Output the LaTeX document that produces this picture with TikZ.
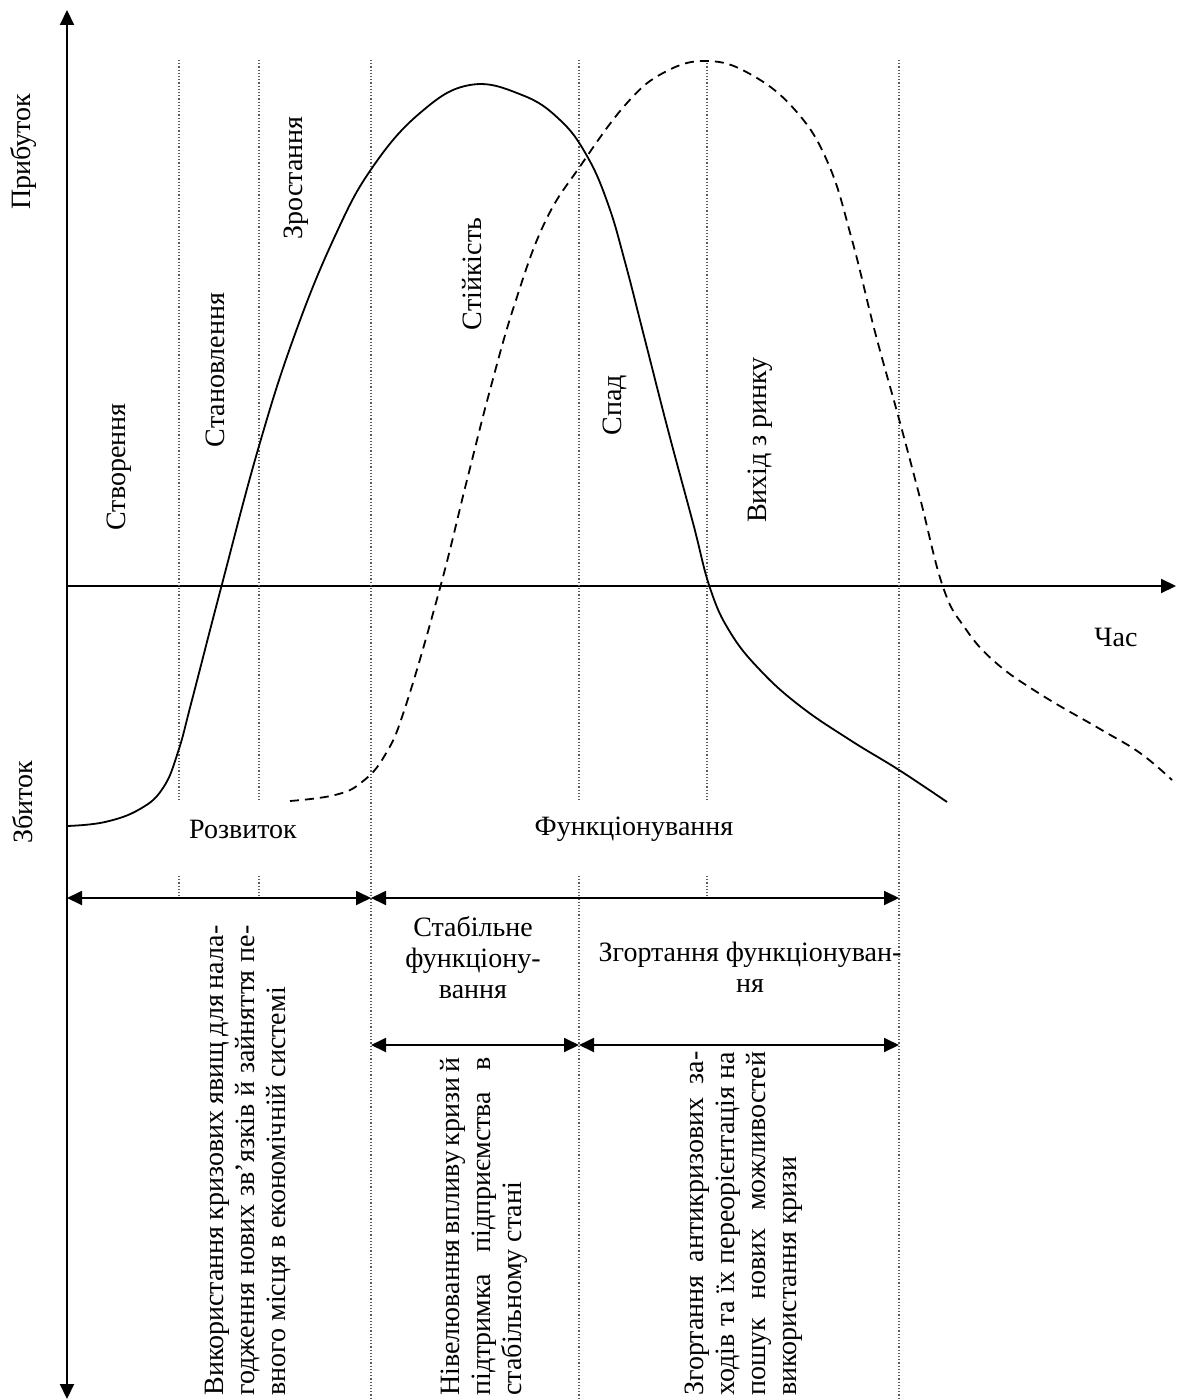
\documentclass[tikz,border=0pt]{standalone}
\usepackage{fontspec}
\setmainfont{Liberation Serif}
\usetikzlibrary{arrows.meta}
\newcommand\figfont{\fontsize{14pt}{15.5pt}\selectfont}

\begin{document}
\begin{tikzpicture}[x=0.5pt,y=-0.5pt,
    >={Triangle[length=7.5pt,width=7pt]},
    every node/.style={font=\figfont,inner sep=0pt},
    axis/.style={line width=1pt},
    span/.style={line width=0.9pt,<->},
    guide/.style={line width=0.6pt,densely dotted,black!65},
    life/.style={line width=0.9pt},
    next/.style={life,dash pattern=on 4.5pt off 3pt},
    stage/.style={rotate=90},
    note/.style={rotate=90,anchor=north west,align=justify}
  ]
  \useasboundingbox (0,0) rectangle (1177,1400);

  % axes
  \coordinate (ytop) at (67,10);
  \coordinate (ybot) at (67,1399);
  \coordinate (org) at (67,586);
  \coordinate (xend) at (1176,586);
  \draw[axis,<->] (ybot) -- (ytop);
  \draw[axis,->] (org) -- (xend);

  % stage borders
  \foreach \x in {179,259,707}
    \draw[guide] (\x,60) -- (\x,800) (\x,876) -- (\x,898);
  \draw[guide] (579,60) -- (579,800) (579,876) -- (579,1400);
  \foreach \x in {371,899}
    \draw[guide] (\x,60) -- (\x,1400);

  % life curves
  \draw[life] plot[smooth,tension=0.7] coordinates {
    (67,826) (105,822) (140,809) (163,788) (178,752) (192,700) (221,588)
    (259,446) (295,334) (335,236) (372,168) (420,113) (470,85) (522,95)
    (560,120) (587,156) (608,204) (625,262) (645,340) (668,430) (693,523)
    (710,588) (730,632) (760,670) (800,706) (850,740) (899,770) (947,802)};
  \draw[next] plot[smooth,tension=0.7] coordinates {
    (290,801) (335,795) (362,782) (385,755) (405,708) (440,588)
    (467,480) (490,390) (515,303) (545,222) (581,165) (627,103) (665,72)
    (707,61) (750,74) (795,110) (828,163) (852,240) (875,332) (899,419)
    (920,498) (943,587) (965,628) (995,662) (1040,694) (1100,729)
    (1140,753) (1172,780)};

  % axis labels
  \node[stage] (profit) at (23,152) {Прибуток};
  \node[stage] (loss) at (23,802) {Збиток};
  \node (time) at (1116,637) {Час};

  % stages
  \node[stage] (create) at (119,467) {Створення};
  \node[stage] (form) at (215,370) {Становлення};
  \node[stage] (grow) at (296,178) {Зростання};
  \node[stage] (hold) at (472,274) {Стійкість};
  \node[stage] (fall) at (615,405) {Спад};
  \node[stage] (quit) at (760,440) {Вихід з ринку};
  \node (devel) at (243,829) {Розвиток};
  \node (funct) at (634,829) {Функціонування};

  % periods
  \coordinate (a0) at (67,898);
  \coordinate (a1) at (371,898);
  \coordinate (a2) at (899,898);
  \coordinate (b0) at (371,1045);
  \coordinate (b1) at (579,1045);
  \coordinate (b2) at (899,1045);
  \draw[span] (a0) -- (a1);
  \draw[span] (a1) -- (a2);
  \draw[span] (b0) -- (b1);
  \draw[span] (b1) -- (b2);
  \node[align=center] (stable) at (473,958) {Стабільне\\функціону-\\вання};
  \node[align=center] (fold) at (750,967) {Згортання функціонуван-\\ня};

  % measures
  \node[note,text width=235pt] (useit) at (205,1396)
    {Використання кризових явищ для нала-\linebreak годження нових зв’язків й зайняття пе-\linebreak вного місця в економічній системі};
  \node[note,text width=169pt] (level) at (440,1396)
    {Нівелювання впливу кризи й\linebreak підтримка підприємства в\linebreak стабільному стані};
  \node[note,text width=172pt] (wind) at (685,1396)
    {Згортання антикризових за-\linebreak ходів та їх переорієнтація на\linebreak пошук нових можливостей\linebreak використання кризи};
\end{tikzpicture}
\end{document}
